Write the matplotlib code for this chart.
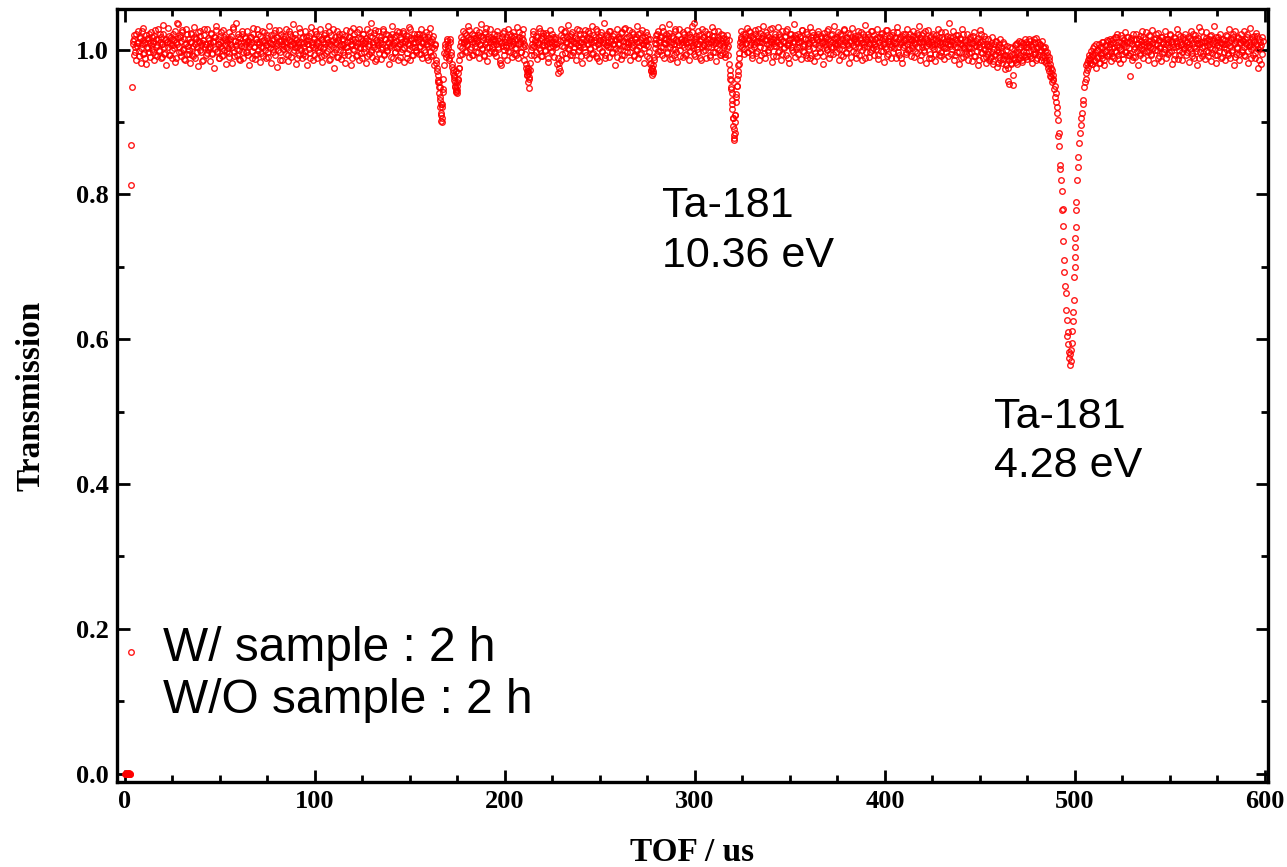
import numpy as np
import matplotlib
matplotlib.use("Agg")
import matplotlib.pyplot as plt
from matplotlib.ticker import MultipleLocator

# ---------------- data ----------------
# very first channels (TOF in us, transmission)
start_tof = [0.2, 0.5, 0.8, 1.1, 1.4, 1.7, 2.0, 2.3, 2.6, 2.9, 3.2, 3.3, 3.4, 3.5]
start_trans = [0.0, 0.001, 0.0, 0.0, 0.001, 0.0, 0.0, 0.001, 0.0, 0.0, 0.168, 0.813, 0.868, 0.948]

grid_step = 0.5

# grid A: TOF 4.0 ... 483.5 us, step 0.5 us; deviation from 1.000 in 1/1000
grid_a_start = 4.0
dev_a = [
    12, -8, 20, 3, -14, 9, 25, -2, 16, -18, 7, 30, -5, 11, -20, 14, 2, 22, -10, 6,
    18, -3, 9, -15, 27, 4, -9, 15, 0, 21, -12, 8, 34, -6, 13, -22, 10, 3, 19, -7,
    6, 15, -11, 22, 2, -17, 11, 37, 35, -4, 17, -9, 24, 1, -13, 8, 28, -6, 14, -1,
    -19, 10, 21, -7, 5, 31, -12, 16, 3, -23, 12, 26, -3, 9, -14, 20, 7, -8, 29, 1,
    13, -16, 4, 23, -5, 10, -26, 17, 33, -2, 8, -12, 19, 5, -9, 27, -1, 14, -20, 11,
    2, 24, -10, 15, 6, -18, 28, -4, 12, 36, -7, 18, 0, -15, 9, 22, -11, 5, 16, -3,
    25, -8, 11, -21, 7, 18, -2, 30, 4, -13, 15, -6, 21, 10, -17, 3, 26, -9, 13, 0,
    -12, 20, 6, -4, 32, 9, -19, 14, 1, 23, -8, 17, -24, 8, 27, -3, 12, -14, 19, 5,
    10, -6, 29, 2, -16, 13, 22, -10, 7, 35, -1, 16, -20, 4, 11, -7, 24, 0, -12, 18,
    3, 26, -9, 12, -22, 8, 19, -5, 31, 6, -14, 15, 2, 21, -11, 9, -3, 28, 14, -17,
    11, 4, -8, 23, 16, -2, 33, -15, 7, 20, -6, 13, -25, 10, 1, 25, -10, 17, 5, -13,
    22, -4, 14, 8, -18, 27, 3, -7, 18, 12, -21, 6, 30, -1, 15, -9, 24, 9, -14, 2,
    16, -11, 7, 21, -3, 12, -19, 28, 5, -6, 19, 37, -10, 8, 23, -16, 13, 1, 26, -5,
    9, 17, -13, 4, 29, -8, 14, 22, -2, 10, -20, 18, 6, 33, -12, 11, -4, 20, 2, -15,
    24, 7, -10, 15, 1, 26, -17, 12, 20, -5, 9, 31, -14, 16, 3, -8, 22, 11, -3, 18,
    14, -6, 21, 5, 28, -12, 10, 17, -3, 24, 8, -15, 12, 30, -9, 4, 19, -22, 6, -18,
    -25, -35, -45, -60, -80, -98, -75, -40, -5, 8, -10, 12, 2, -12, 15, -4, -20, -28, -38, -45,
    -55, -60, -50, -32, -15, 5, 18, -6, 25, 11, -2, 20, 7, 32, -10, 14, 3, 22, -7, 16,
    9, 27, -4, 13, 20, -12, 6, 35, 1, 17, -8, 24, 11, -16, 19, 4, 29, -2, 15, 8,
    -5, 21, 12, -9, 26, 3, 16, -18, -22, 10, 23, -1, 14, 6, -14, 28, 9, -3, 19, 12,
    7, 24, -6, 15, 2, 31, -11, 18, 9, -4, 22, 13, -15, 5, -20, -30, -33, -53, -28, -8,
    14, 3, 26, -7, 11, 19, -13, 8, 30, 0, 16, -9, 23, 6, -2, 20, 12, -17, 9, 27,
    -4, 15, 22, 5, -10, 18, 8, -20, -33, -18, 12, 28, -6, 17, 3, 25, -11, 10, 34, 1,
    19, -8, 13, 24, -3, 9, 16, -14, 29, 6, -1, 21, 11, -19, 14, 4, 27, -7, 17, 8,
    -12, 23, 2, 15, 32, -5, 10, 18, -9, 26, 7, -16, 13, 20, -2, 11, 36, -11, 6, 22,
    3, 17, -10, 25, 12, -4, 19, 8, -21, 14, 28, -1, 9, 16, -13, 24, 5, -7, 30, 11,
    18, -3, 8, 27, -15, 13, 4, 21, -8, 15, 1, 33, -12, 10, 23, -5, 17, 7, -18, 12,
    24, 6, -9, 14, -12, -20, -28, -35, -22, -10, 9, 20, -6, 26, 13, -2, 18, 31, 4, -11,
    16, 9, 22, -4, 12, 35, -13, 7, 19, 1, -8, 25, 14, -17, 10, 28, -1, 15, 6, -10,
    21, 3, 13, -6, 27, 10, -14, 18, 5, 24, 2, 36, -9, 16, 8, -3, 20, 12, -15, 29,
    7, -2, 17, 25, -11, 14, 3, 22, -7, 11, 31, -4, 19, 9, -16, 13, 26, 0, 15, -8,
    12, -5, 20, 6, -10, 15, 2, -8, -20, -35, -52, -70, -95, -118, -100, -72, -50, -30, -12, 5,
    18, 26, 4, 13, -6, 21, 9, 30, -3, 15, 24, 1, -11, 17, 8, 27, -5, 12, 19, -14,
    10, 23, -7, 16, 33, 2, -12, 14, 20, -4, 8, 28, 11, -17, 15, 5, 22, -9, 13, 31,
    -2, 17, 7, -15, 25, 12, 3, 19, -8, 29, 6, -19, 14, 21, -1, 10, 35, -10, 16, 4,
    22, -6, 11, 18, -13, 27, 5, -3, 15, 24, -11, 9, 1, 31, -7, 13, 20, -16, 8, 17,
    -9, 14, 26, 2, -4, 19, 10, -20, 23, 7, 16, -1, 28, -12, 12, 4, 21, -6, 33, 9,
    15, -3, 8, 24, -14, 11, 20, 1, -9, 27, 13, -5, 17, 6, -18, 22, 10, 30, -2, 14,
    4, 19, -11, 12, 26, -7, 16, 9, -15, 21, 3, 34, -4, 13, 18, -10, 7, 25, -1, 11,
    20, -8, 14, 5, 29, -13, 10, 17, -2, 23, 8, -17, 15, 1, 27, -6, 12, 19, -11, 6,
    -4, 24, 9, 16, -12, 31, 3, -7, 18, 11, -19, 22, 6, 14, -3, 28, 0, 15, 21, -9,
    13, 2, 25, -10, 8, 17, -5, 20, 32, -14, 10, 4, 23, -1, 16, -18, 12, 27, 7, -6,
    19, -11, 6, 22, 1, -16, 14, 9, 28, -7, 11, -3, 18, 5, -13, 24, 2, 15, -9, 36,
    8, 17, -6, 12, 25, -15, 3, 20, -4, 10, -20, 16, 7, 29, -10, 4, 13, -2, 21, -14,
    11, -5, 18, 2, -16, 9, 24, -9, 5, 14, -22, 7, 27, -3, 12, -12, 19, 0, -18, 8,
    -2, 14, -15, 6, -10, 18, -20, 1, -6, 11, -24, -4, 8, -14, 3, -19, 10, -8, -27, 0,
    -12, 5, -25, -47, -9, -18, 2, -49, -6, -15, 8, -20, -3, 12, -11, 4, -17, 9, -7, 15,
    -4, 10, -13, 3, 14, -9, 6, -18, 1, 11, -6, 16, -12, 4, -2, 8, -15, 12, -8, 2,
]

# grid A2: interleaved channels, TOF 4.25 ... 483.75 us, step 0.5 us
grid_a2_start = 4.25
dev_a2 = [
    8, 15, -3, 22, 5, 11, -9, 18, 2, 26, -6, 13, 9, -12, 20, 4, 16, -4, 10, 24,
    1, 12, 19, -7, 14, 6, 28, -2, 10, 17, -10, 7, 22, 3, -5, 15, 11, 30, -8, 9,
    18, -1, 6, 13, 25, -11, 8, 16, 4, 20, -3, 12, 27, 0, 14, -14, 9, 21, 5, -6,
    11, 23, 2, -9, 17, 7, 14, -4, 24, 10, -1, 19, 6, -16, 13, 28, 3, 8, -5, 16,
    4, 9, 21, -6, 12, 18, 1, 27, -3, 15, 7, -11, 11, 24, 2, -8, 17, 6, 13, -2,
    14, -5, 8, 19, 3, 31, -9, 12, 6, 1, 22, 10, -13, 16, 5, 26, -4, 11, 18, 7,
    -3, 13, 5, 17, 9, -12, 22, 4, -7, 15, 11, 29, 0, 8, 19, -5, 12, 3, 24, 10,
    6, 16, -10, 11, 2, 20, 7, -4, 14, 27, 5, 9, 18, -1, 12, -15, 21, 8, 1, 15,
    19, 3, 10, -7, 25, 6, 12, 17, -3, 9, 22, 4, 13, -12, 8, 30, 2, 11, 16, -6,
    9, -2, 18, 7, 13, 1, -11, 23, 10, 4, 16, -8, 26, 6, 12, -1, 19, 3, -9, 14,
    2, 20, 8, -5, 15, 10, 24, -13, 6, 12, 3, 29, -4, 17, 9, -10, 13, 21, 0, 7,
    15, 6, -8, 19, 4, 11, -2, 17, 25, 8, -12, 14, 1, 22, 10, 5, -7, 16, 28, 3,
    -5, 12, 21, 2, 9, 16, -9, 13, 7, 24, 0, -4, 18, 11, 3, 27, -13, 10, 6, 19,
    13, 1, 8, 26, -6, 15, 4, -1, 20, 9, 14, 3, -10, 22, 7, 17, -3, 12, 25, 5,
    7, 18, -4, 11, 23, 2, 10, 15, -12, 19, 6, 1, 28, 13, -7, 9, 16, 4, -1, 21,
    12, 3, 16, -6, 9, 20, -1, 14, 8, -10, 17, 5, 22, -3, 11, 15, -8, 2, 7, -14,
    -30, -42, -52, -70, -88, -95, -58, -22, 3, -6, 14, -2, 6, -15, 10, -8, -24, -33, -42, -52,
    -58, -56, -42, -25, -8, 10, 2, 15, 9, 23, -4, 12, 6, 18, 27, 1, 14, -7, 10, 20,
    5, 16, 11, -3, 24, 8, 19, 2, 13, -9, 21, 7, 30, 4, 15, -5, 10, 18, 3, 12,
    14, -4, 7, 20, 1, 12, -15, 9, 17, 5, -7, 26, 11, 3, 18, -2, 13, 22, 6, -10,
    10, 19, 2, -8, 15, 7, 24, 12, -3, 16, 4, 28, 8, -6, -25, -35, -45, -38, -18, 0,
    8, 21, 5, 13, -4, 17, 10, 2, 25, -9, 14, 6, 19, 11, -1, 23, 7, -12, 16, 4,
    11, -2, 18, 7, 14, 3, 9, -11, -25, -30, -15, 20, 5, 13, 24, -5, 10, 17, 2, 15,
    6, 22, -7, 12, 4, 19, 9, 15, -2, 27, 11, 3, -9, 16, 8, 21, -4, 13, 7, 25,
    16, 1, 10, -6, 20, 13, 5, 29, -11, 8, 17, 2, 12, 24, -3, 15, 9, -8, 19, 6,
    10, 26, 4, 14, -5, 8, 21, 13, 2, -10, 18, 7, 15, 1, 23, -7, 12, 29, 5, 16,
    3, 11, 19, -3, 9, 24, 6, -9, 14, 18, -1, 10, 22, 5, -6, 13, 27, 8, 2, 17,
    12, 20, 5, -4, 15, -18, -25, -30, -15, 2, 14, 8, 22, -2, 11, 17, 4, -8, 25, 9,
    7, 14, -5, 19, 23, 3, 10, -12, 16, 8, 28, 1, -3, 12, 20, 6, -9, 15, 11, 24,
    13, -7, 9, 17, 4, 21, -2, 11, 32, 6, 15, -6, 10, 19, 1, 25, 8, -11, 14, 3,
    18, 6, -1, 12, 22, 9, 15, -10, 4, 19, 7, 13, 26, -4, 10, 2, 17, 8, -7, 21,
    9, 16, 3, -6, 11, 20, 5, 13, -28, -42, -60, -82, -105, -122, -90, -62, -40, -22, -5, 10,
    14, 7, 22, 1, 17, 9, -4, 13, 25, 6, 11, 19, -8, 15, 3, 21, 10, -2, 28, 12,
    4, 16, 10, 20, -5, 13, 24, 7, -1, 18, 12, 3, 15, 30, -9, 9, 17, 5, 11, -3,
    21, 8, 14, -6, 11, 2, 18, 26, 6, -11, 13, 9, 22, 4, 16, -4, 12, 20, 1, 15,
    10, 3, 19, 12, 27, -2, 8, 15, -7, 21, 5, 14, 9, -12, 17, 24, 2, 11, -5, 18,
    13, 22, 6, -3, 16, 9, -9, 12, 18, 4, 25, 1, 14, 8, -6, 20, 11, 3, 16, 7,
    5, 17, 12, 1, 21, -8, 14, 6, 28, 10, -3, 16, 8, 23, 2, 12, -10, 18, 6, 13,
    16, -5, 9, 20, 3, 13, 24, -1, 11, 7, 17, -12, 15, 5, 21, 9, -4, 14, 26, 2,
    8, 14, 1, 18, -7, 11, 6, 22, 13, -2, 19, 9, 4, 27, -9, 12, 16, 7, 3, 20,
    12, 2, 17, 9, 24, -4, 15, 7, -11, 19, 10, 4, 13, 21, -6, 8, 18, 1, 11, 14,
    6, 19, 11, -2, 15, 23, 3, 10, 16, -8, 20, 7, 12, -3, 26, 5, 14, 9, -12, 17,
    10, 3, 15, 8, -6, 20, 12, 1, 17, 6, 24, -9, 9, 14, 2, 11, -4, 19, 7, 13,
    5, 12, 1, 17, 7, -8, 14, 3, 20, -3, 9, 15, -12, 6, 22, 2, 10, -6, 13, 4,
    2, 14, -4, 9, 19, -9, 6, 12, -2, 16, 4, -14, 10, 21, -5, 7, 1, 15, -10, 5,
    -6, 5, -12, 9, -3, -16, 7, -8, 12, -1, -19, 4, -10, 15, -5, -2, -13, 8, -7, -21,
    -9, -44, -14, 3, -20, -6, -35, -11, 6, -17, -4, 9, -13, 1, -8, 11, -15, -2, 6, -10,
    3, -9, 7, -2, 12, -12, 5, -6, 15, -4, 9, -14, 2, 11, -7, 6, -1, -10, 4, -16,
]

# Ta-181 4.28 eV resonance region, TOF 484 ... 507.8 us
dip_tof = [484.0, 484.5, 485.0, 485.5, 486.0, 486.4, 486.8, 487.2, 487.6, 488.0,
           488.3, 488.6, 489.0, 489.3, 489.5, 489.8, 490.1, 490.4, 490.7, 490.9,
           491.2, 491.5, 491.7, 492.1, 492.4, 492.6, 493.0, 493.3, 493.5, 493.7,
           493.9, 494.2, 494.4, 494.7, 495.1, 495.3, 495.6, 495.9, 496.2, 496.5,
           496.8, 497.0, 497.2, 497.4, 497.7, 498.0, 498.3, 498.4, 498.8, 499.1,
           499.5, 499.6, 499.8, 500.0, 500.0, 500.2, 500.4, 500.5, 500.7, 501.1,
           501.4, 501.7, 502.1, 502.6, 503.0, 503.3, 503.5, 504.0, 504.4, 504.9,
           505.3, 505.8, 506.2, 506.5, 507.0, 507.5,
           484.25, 484.75, 485.25, 485.75, 486.2, 486.6, 487.0, 487.4, 487.8, 488.5,
           505.6, 506.0, 506.8, 507.2, 507.8]
dip_trans = [0.990, 1.003, 0.985, 0.996, 0.978, 0.990, 0.963, 0.975, 0.968, 0.955,
             0.965, 0.958, 0.945, 0.950, 0.935, 0.940, 0.928, 0.921, 0.912, 0.903,
             0.880, 0.885, 0.867, 0.835, 0.840, 0.820, 0.804, 0.778, 0.780, 0.757,
             0.736, 0.709, 0.693, 0.674, 0.664, 0.640, 0.627, 0.604, 0.610, 0.594,
             0.583, 0.574, 0.580, 0.565, 0.570, 0.585, 0.611, 0.595, 0.625, 0.638,
             0.654, 0.686, 0.700, 0.714, 0.727, 0.740, 0.755, 0.779, 0.790, 0.820,
             0.838, 0.852, 0.871, 0.885, 0.896, 0.905, 0.912, 0.925, 0.930, 0.948,
             0.955, 0.960, 0.972, 0.981, 0.976, 0.988,
             0.998, 0.982, 0.993, 0.975, 0.986, 0.970, 0.980, 0.962, 0.972, 0.960,
             0.968, 0.978, 0.985, 0.992, 0.982]

# grid B: TOF 508.0 ... 598.5 us, step 0.5 us; deviation from 1.000 in 1/1000
grid_b_start = 508.0
dev_b = [
    -15, -2, -20, -8, 5, -14, -25, 0, -10, 8, -18, -5, 3, -12, 10, -22, -3, 6, -9, 12,
    -6, 14, -16, 2, 9, -11, 17, -4, 21, -8, 4, -19, 11, 0, 16, -13, 7, 24, -3, 10,
    18, -7, -36, 13, -15, 22, 1, -10, 15, 8, -21, 3, 19, -5, 12, 26, -12, 6, 14, -2,
    9, -14, 20, 4, -6, 27, 11, -18, 7, 16, -1, 23, -9, 13, 2, -16, 18, 8, -4, 25,
    -11, 6, 15, -3, 21, 10, -20, 3, 17, -7, 12, 29, -13, 5, -1, 19, 8, -15, 14, 1,
    22, -8, 11, 4, -17, 16, 26, -5, 9, -12, 20, 2, -22, 13, 7, 31, -3, 10, -9, 18,
    5, -13, 24, 12, -4, 8, 19, -16, 1, 14, 33, -7, 11, -19, 6, 17, -2, 22, 9, -10,
    15, 3, -15, 20, 7, -5, 28, -11, 13, 0, 18, -21, 9, 25, -6, 4, 16, -14, 11, 21,
    -3, 12, 26, -9, 8, 17, -18, 5, 30, 1, 14, -7, 19, 10, -12, 23, 6, -25, 15, 3,
    -20, 18,
]

# grid B2: interleaved channels, TOF 508.25 ... 598.75 us, step 0.5 us
grid_b2_start = 508.25
dev_b2 = [
    -10, -20, -6, 2, -16, -3, 7, -12, -1, -18, 4, -8, 11, -5, -14, 6, -2, 13, -7, 3,
    8, -4, 12, -9, 15, 3, -2, 18, 6, -13, 10, 1, 20, -6, 9, 13, -3, 5, 17, -8,
    2, 11, -5, 16, 7, -10, 13, 4, 22, -2, 9, 14, -7, 6, 1, 18, -4, 10, 24, 5,
    -3, 12, 6, 19, -8, 9, 2, 15, -1, 21, 7, -11, 13, 4, 17, -5, 10, 1, 14, 8,
    15, -6, 10, 4, 20, -2, 12, 7, -13, 16, 3, 9, 22, -7, 11, 6, -3, 18, 2, 13,
    5, 10, -4, 17, 8, 1, 13, -9, 21, 4, 14, -2, 9, 16, -12, 7, 25, 3, -5, 12,
    11, -2, 16, 6, -9, 14, 3, 20, -5, 9, 12, 1, 18, -7, 13, 4, 10, -11, 15, 7,
    -4, 13, 8, 1, 19, -8, 11, 5, 16, -3, 22, 7, -10, 12, 2, 17, -6, 9, 14, 0,
    12, 4, -7, 15, 9, 21, -2, 11, 6, -12, 17, 3, 13, -5, 8, 19, 1, -14, 10, 6,
    -6, 12,
]

# additional channels inside the narrow resonances
extra_tof = [165.2, 165.7, 165.9, 166.2, 166.4, 166.8, 166.9, 167.2,
             173.3, 173.8, 174.2, 174.4, 174.7, 175.2, 175.7,
             211.8, 212.1, 212.2, 212.7,
             276.8, 277.2, 277.8,
             318.7, 319.2, 319.7, 320.2, 320.4, 320.7, 320.9, 321.2, 321.7, 322.2, 322.6, 323.2]
extra_trans = [0.955, 0.935, 0.948, 0.925, 0.910, 0.900, 0.920, 0.945,
               0.965, 0.950, 0.943, 0.970, 0.955, 0.960, 0.975,
               0.965, 0.974, 0.970, 0.960,
               0.970, 0.975, 0.968,
               0.960, 0.945, 0.925, 0.905, 0.890, 0.875, 0.885, 0.910, 0.935, 0.950, 0.965, 0.980]

x_ticks = [0, 100, 200, 300, 400, 500, 600]
y_ticks = [0.0, 0.2, 0.4, 0.6, 0.8, 1.0]
x_label = "TOF / us"
y_label = "Transmission"
note_10 = "Ta-181\n10.36 eV"
note_4 = "Ta-181\n4.28 eV"
note_time = "W/ sample : 2 h\nW/O sample : 2 h"

# ---------------- assemble series ----------------
def grid_series(start, dev):
    x = start + grid_step * np.arange(len(dev))
    y = 1.0 + np.asarray(dev, dtype=float) / 1000.0
    return x, y

tof_a, trans_a = grid_series(grid_a_start, dev_a)
tof_a2, trans_a2 = grid_series(grid_a2_start, dev_a2)
tof_b, trans_b = grid_series(grid_b_start, dev_b)
tof_b2, trans_b2 = grid_series(grid_b2_start, dev_b2)

tof = np.concatenate([start_tof, tof_a, tof_a2, extra_tof, dip_tof, tof_b, tof_b2])
trans = np.concatenate([start_trans, trans_a, trans_a2, extra_trans, dip_trans, trans_b, trans_b2])

# ---------------- figure ----------------
fig = plt.figure(figsize=(12.87, 8.67), dpi=100)
ax = fig.add_axes([0.0909, 0.098, 0.8943, 0.8916])

ax.plot(tof, trans, ls="none", marker="o", ms=4.0, mfc="none",
        mec="#ff0000", mew=1.0, alpha=0.9)

ax.set_xlim(-4.2, 601.6)
ax.set_ylim(-0.0115, 1.056)
ax.set_xticks(x_ticks)
ax.set_yticks(y_ticks)
ax.set_yticklabels([f"{v:.1f}" for v in y_ticks])
ax.xaxis.set_minor_locator(MultipleLocator(25))
ax.yaxis.set_minor_locator(MultipleLocator(0.1))

serif_bold = dict(family="Liberation Serif", weight="bold")
for lab in ax.get_xticklabels() + ax.get_yticklabels():
    lab.set_fontfamily("Liberation Serif")
    lab.set_fontweight("bold")
    lab.set_fontsize(19)

ax.tick_params(which="both", direction="in", top=True, right=True, width=2, colors="black")
ax.tick_params(which="major", length=9, pad=6)
ax.tick_params(which="minor", length=5)
for sp in ax.spines.values():
    sp.set_linewidth(2.4)

ax.set_xlabel(x_label, fontsize=24, labelpad=17, **serif_bold)
ax.set_ylabel(y_label, fontsize=24, labelpad=21, **serif_bold)

sans = dict(family="Liberation Sans")
ax.text(282.6, 0.811, note_10, fontsize=31, va="top", ha="left", linespacing=1.3, **sans)
ax.text(457.4, 0.520, note_4, fontsize=31, va="top", ha="left", linespacing=1.3, **sans)
ax.text(20.0, 0.204, note_time, fontsize=34.5, va="top", ha="left", linespacing=1.2, **sans)

fig.savefig("out.png", dpi=100)
